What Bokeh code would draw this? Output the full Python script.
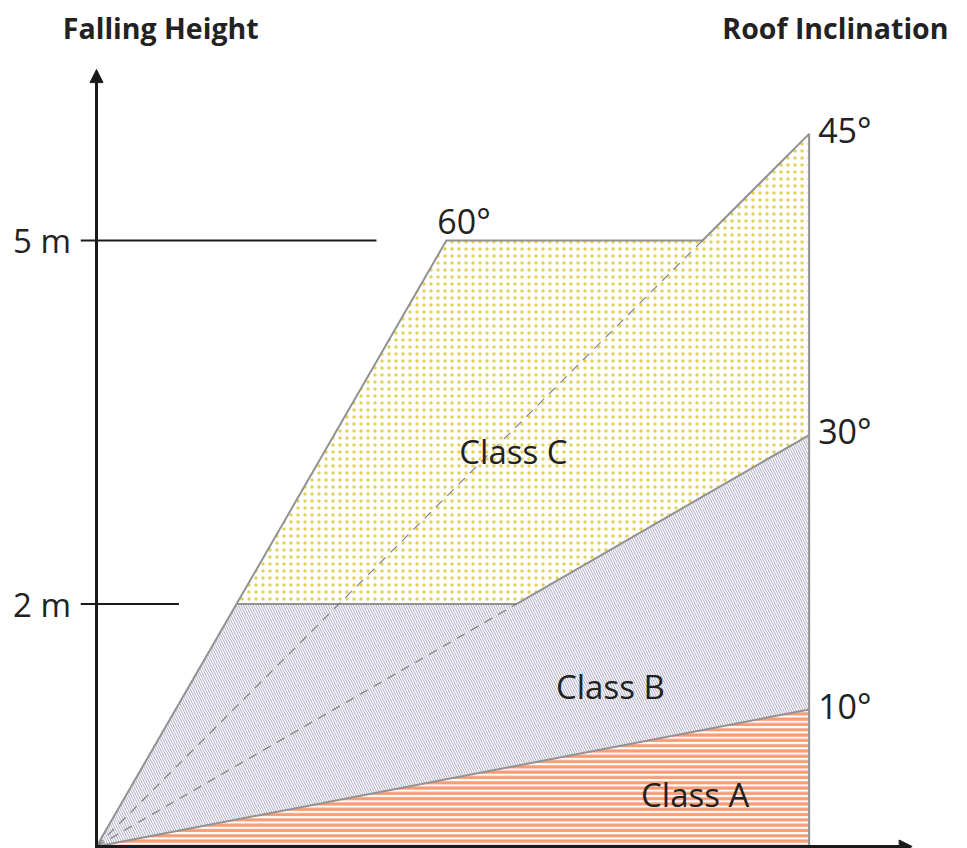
import math
from bokeh.plotting import figure
from bokeh.models import ColumnDataSource, Arrow, NormalHead
from bokeh.core.properties import value
from bokeh.embed import file_html
from bokeh.resources import INLINE

# ---------------- data ----------------
height_marks = [2, 5]                 # metres
height_labels = ["2 m", "5 m"]
tick_line_lengths = [0.68, 2.31]      # length of the horizontal height guide lines (m)
angle_values = [10, 30, 45, 60]       # degrees
angle_labels = ["10°", "30°", "45°", "60°"]
class_names = ["Class A", "Class B", "Class C"]
class_label_x = [4.94, 4.24, 3.44]
class_label_y = [0.43, 1.32, 3.26]
roof_length = 5.88                    # horizontal extent of the diagram (m)
class_a_edge = 1.13                   # height of the class A boundary at roof end (m)
axis_x_len = 6.73
axis_y_len = 6.41
title_left = "Falling Height"
title_right = "Roof Inclination"

# ---------------- layout ----------------
K = 121.2          # px per metre (both axes)
W, H = 966, 848
ox, oy = 96, 846   # origin in plot pixels (from left / from top)

p = figure(width=W, height=H,
           x_range=(-ox / K, (W - ox) / K),
           y_range=(-(H - oy) / K, oy / K),
           output_backend="svg", toolbar_location=None, min_border=0,
           x_axis_type=None, y_axis_type=None)
p.outline_line_color = None
p.grid.visible = False
p.background_fill_color = "white"
p.border_fill_color = "white"

t = {a: math.tan(math.radians(a)) for a in angle_values}
h2, h5 = height_marks
L = roof_length

p60_2 = (h2 / t[60], h2)
p30_2 = (h2 / t[30], h2)
p60_5 = (h5 / t[60], h5)
p45_5 = (h5 / t[45], h5)
b_top = L * t[30]
c_top = p45_5[1] + (L - p45_5[0]) * t[45]

poly_a = [(0, 0), (L, 0), (L, class_a_edge)]
poly_b = [(0, 0), p60_2, p30_2, (L, b_top), (L, class_a_edge)]
poly_c = [p60_2, p60_5, p45_5, (L, c_top), (L, b_top), p30_2]

def xs(poly):
    return [q[0] for q in poly]

def ys(poly):
    return [q[1] for q in poly]

edge = "#929292"
p.patch(xs(poly_a), ys(poly_a), fill_color="white",
        hatch_pattern="horizontal_line", hatch_color="#F79C74",
        hatch_scale=5.3, hatch_weight=3.2, line_color=None)
p.patch(xs(poly_b), ys(poly_b), fill_color="#B8B6CB",
        hatch_pattern="left_diagonal_line", hatch_color="white",
        hatch_scale=5, hatch_weight=1.2, line_color=None)
p.patch(xs(poly_c), ys(poly_c), fill_color="white",
        hatch_pattern="dot", hatch_color="#E4D157",
        hatch_scale=7, hatch_weight=1.6, line_color=None)

# outlines
p.line([0, p60_5[0], p45_5[0], L, L], [0, p60_5[1], p45_5[1], c_top, 0],
       line_color=edge, line_width=2)
p.line([p60_2[0], p30_2[0], L], [h2, h2, b_top], line_color=edge, line_width=2)
p.line([0, L], [0, class_a_edge], line_color=edge, line_width=2)

# dashed angle guides
p.line([0, p45_5[0]], [0, p45_5[1]], line_color="#7a7a7a", line_width=1.1, line_dash="9 7")
p.line([0, p30_2[0]], [0, p30_2[1]], line_color="#7a7a7a", line_width=1.1, line_dash="9 7")

# height guide lines
for hm, ln in zip(height_marks, tick_line_lengths):
    p.line([-0.13, ln], [hm, hm], line_color="#1a1a1a", line_width=2)

# axes with arrows
p.line([0, 0], [-0.1, 0], line_color="#1a1a1a", line_width=3)
p.add_layout(Arrow(end=NormalHead(size=13, fill_color="#1a1a1a", line_color="#1a1a1a"),
                   x_start=0, y_start=-0.02, x_end=0, y_end=axis_y_len,
                   line_width=3, line_color="#1a1a1a"))
p.add_layout(Arrow(end=NormalHead(size=13, fill_color="#1a1a1a", line_color="#1a1a1a"),
                   x_start=-0.01, y_start=0, x_end=axis_x_len, y_end=0,
                   line_width=3, line_color="#1a1a1a"))

font = value("Open Sans")
tc = "#222222"

# height labels
p.text(x=[-0.21] * len(height_marks), y=height_marks, text=height_labels,
       text_font=font, text_font_size="33px", text_color=tc,
       text_align="right", text_baseline="middle")

# angle labels on the right edge
ang_src = ColumnDataSource(dict(x=[L, L, L], y=[class_a_edge, b_top, c_top],
                                text=[angle_labels[0], angle_labels[1], angle_labels[2]]))
p.text(x="x", y="y", text="text", source=ang_src, x_offset=9, y_offset=-4,
       text_font=font, text_font_size="34px", text_color=tc,
       text_align="left", text_baseline="middle")
p.text(x=[p60_5[0]], y=[p60_5[1]], text=[angle_labels[3]], x_offset=-9, y_offset=-20,
       text_font=font, text_font_size="34px", text_color=tc,
       text_align="left", text_baseline="middle")

# class labels
p.text(x=class_label_x, y=class_label_y, text=class_names,
       text_font=font, text_font_size="33px", text_color=tc,
       text_align="center", text_baseline="middle")

# titles
p.text(x=[0.53], y=[6.75], text=[title_left], text_font=font, text_font_style="bold",
       text_font_size="28.5px", text_color=tc, text_align="center", text_baseline="middle")
p.text(x=[(948 - 96) / K], y=[6.75], text=[title_right], text_font=font,
       text_font_style="bold", text_font_size="28.5px", text_color=tc,
       text_align="right", text_baseline="middle")

open("out.html", "w").write(file_html(p, INLINE))
